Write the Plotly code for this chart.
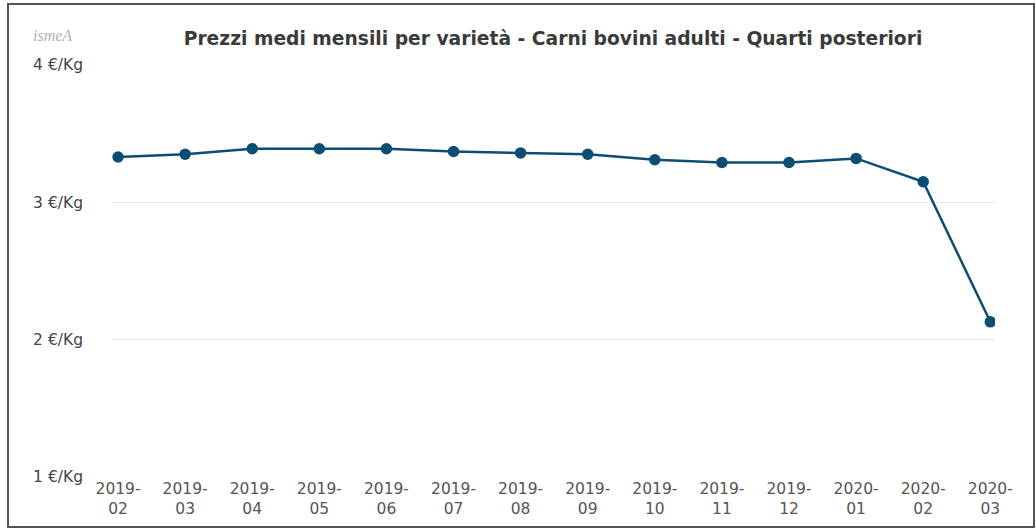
import plotly.graph_objects as go

months = ["2019-02", "2019-03", "2019-04", "2019-05", "2019-06", "2019-07", "2019-08",
          "2019-09", "2019-10", "2019-11", "2019-12", "2020-01", "2020-02", "2020-03"]
prices = [3.33, 3.35, 3.39, 3.39, 3.39, 3.37, 3.36, 3.35, 3.31, 3.29, 3.29, 3.32, 3.15, 2.13]
ytick_vals = [1, 2, 3, 4]
ytick_text = ["1 €/Kg", "2 €/Kg", "3 €/Kg", "4 €/Kg"]
title = "Prezzi medi mensili per varietà - Carni bovini adulti - Quarti posteriori"

W, H = 1036, 529
L, R, T, B = 112, 41, 65, 52
pw, ph = W - L - R, H - T - B

def px_x(x):
    return (x - L) / pw

def px_y(y):
    return (H - B - y) / ph

xt = [m.replace("-", "-<br>") for m in months]

fig = go.Figure()
fig.add_trace(go.Scatter(
    x=list(range(len(months))), y=prices, mode="lines+markers",
    line=dict(color="#0c4d74", width=2.5),
    marker=dict(color="#0c4d74", size=11.5),
    hoverinfo="x+y", showlegend=False,
))

fig.update_layout(
    width=W, height=H,
    margin=dict(l=L, r=R, t=T, b=B),
    paper_bgcolor="white", plot_bgcolor="white",
    font=dict(family="DejaVu Sans, Verdana, sans-serif", color="#555555", size=15),
    title=dict(text="<b>" + title + "</b>", x=(553) / W, xanchor="center",
               y=1 - 38 / H, yanchor="middle",
               font=dict(size=18.7, color="#3a3a3a", family="DejaVu Sans, Verdana, sans-serif")),
    xaxis=dict(
        tickmode="array", tickvals=list(range(len(months))), ticktext=xt,
        range=[-0.09, 13.07], showgrid=False, zeroline=False, showline=False,
        ticks="", tickfont=dict(size=15.5, color="#555555"), fixedrange=True,
    ),
    yaxis=dict(
        tickmode="array", tickvals=ytick_vals, ticktext=ytick_text,
        range=[1, 4], showgrid=True, gridcolor="#e6e6e6", gridwidth=1,
        zeroline=False, showline=False, ticks="", ticklabelstandoff=28,
        tickfont=dict(size=15.5, color="#444444"), fixedrange=True,
    ),
    shapes=[dict(type="rect", xref="paper", yref="paper",
                 x0=px_x(8), x1=px_x(1034), y0=px_y(527), y1=px_y(4),
                 line=dict(color="#555555", width=2), fillcolor="rgba(0,0,0,0)", layer="above")],
    annotations=[dict(text="<i>ismeA</i>", xref="paper", yref="paper",
                      x=px_x(52), y=px_y(36), xanchor="center", yanchor="middle",
                      showarrow=False,
                      font=dict(family="Liberation Serif, serif", size=16, color="#b0b0b0"))],
)

fig.write_html("out.html", config={"displayModeBar": False},
               post_script="document.body.style.margin='0';")
